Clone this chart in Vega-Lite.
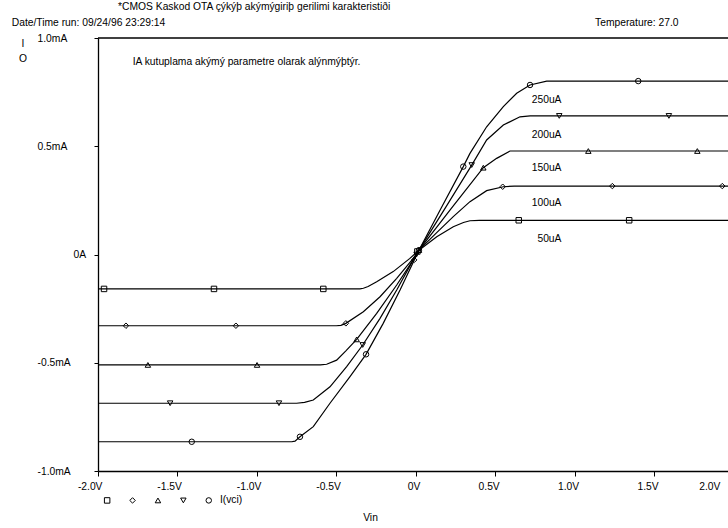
{
  "$schema": "https://vega.github.io/schema/vega-lite/v6.json",
  "width": 630,
  "height": 433,
  "autosize": {"type": "none"},
  "padding": {"left": 98, "top": 38, "right": 0, "bottom": 57},
  "background": "white",
  "config": {
    "view": {"stroke": null},
    "font": "Liberation Sans",
    "axis": {"labelFont": "Liberation Sans", "titleFont": "Liberation Sans", "labelFontSize": 10.3, "titleFontSize": 10.3, "titleFontWeight": "normal", "labelColor": "black", "titleColor": "black", "tickColor": "black", "domainColor": "black", "domainWidth": 1.3, "tickWidth": 1, "grid": false, "labelBound": false, "labelOverlap": false, "labelFlush": false},
    "legend": {"labelFont": "Liberation Sans", "labelFontSize": 10.3, "labelColor": "black"},
    "text": {"font": "Liberation Sans", "fontSize": 10.3, "color": "black"}
  },
  "datasets": {
    "curves": [
      {"series": "50uA", "vin": -2.0, "i": -0.159},
      {"series": "50uA", "vin": -0.351, "i": -0.159},
      {"series": "50uA", "vin": -0.33, "i": -0.156},
      {"series": "50uA", "vin": -0.30, "i": -0.148},
      {"series": "50uA", "vin": -0.246, "i": -0.126},
      {"series": "50uA", "vin": -0.142, "i": -0.079},
      {"series": "50uA", "vin": -0.037, "i": -0.018},
      {"series": "50uA", "vin": 0.02, "i": 0.02},
      {"series": "50uA", "vin": 0.132, "i": 0.082},
      {"series": "50uA", "vin": 0.236, "i": 0.128},
      {"series": "50uA", "vin": 0.30, "i": 0.148},
      {"series": "50uA", "vin": 0.341, "i": 0.156},
      {"series": "50uA", "vin": 0.40, "i": 0.158},
      {"series": "50uA", "vin": 1.965, "i": 0.158},

      {"series": "100uA", "vin": -2.0, "i": -0.329},
      {"series": "100uA", "vin": -0.50, "i": -0.329},
      {"series": "100uA", "vin": -0.471, "i": -0.327},
      {"series": "100uA", "vin": -0.44, "i": -0.318},
      {"series": "100uA", "vin": -0.33, "i": -0.264},
      {"series": "100uA", "vin": -0.225, "i": -0.195},
      {"series": "100uA", "vin": -0.12, "i": -0.110},
      {"series": "100uA", "vin": -0.016, "i": -0.018},
      {"series": "100uA", "vin": 0.02, "i": 0.02},
      {"series": "100uA", "vin": 0.13, "i": 0.10},
      {"series": "100uA", "vin": 0.236, "i": 0.175},
      {"series": "100uA", "vin": 0.341, "i": 0.244},
      {"series": "100uA", "vin": 0.446, "i": 0.295},
      {"series": "100uA", "vin": 0.551, "i": 0.313},
      {"series": "100uA", "vin": 0.62, "i": 0.316},
      {"series": "100uA", "vin": 1.965, "i": 0.316},

      {"series": "150uA", "vin": -2.0, "i": -0.510},
      {"series": "150uA", "vin": -0.60, "i": -0.510},
      {"series": "150uA", "vin": -0.561, "i": -0.507},
      {"series": "150uA", "vin": -0.498, "i": -0.488},
      {"series": "150uA", "vin": -0.44, "i": -0.445},
      {"series": "150uA", "vin": -0.372, "i": -0.392},
      {"series": "150uA", "vin": -0.246, "i": -0.272},
      {"series": "150uA", "vin": -0.12, "i": -0.141},
      {"series": "150uA", "vin": -0.016, "i": -0.025},
      {"series": "150uA", "vin": 0.02, "i": 0.02},
      {"series": "150uA", "vin": 0.22, "i": 0.21},
      {"series": "150uA", "vin": 0.425, "i": 0.401},
      {"series": "150uA", "vin": 0.509, "i": 0.444},
      {"series": "150uA", "vin": 0.593, "i": 0.478},
      {"series": "150uA", "vin": 0.64, "i": 0.478},
      {"series": "150uA", "vin": 1.965, "i": 0.478},

      {"series": "200uA", "vin": -2.0, "i": -0.687},
      {"series": "200uA", "vin": -0.75, "i": -0.687},
      {"series": "200uA", "vin": -0.70, "i": -0.683},
      {"series": "200uA", "vin": -0.645, "i": -0.672},
      {"series": "200uA", "vin": -0.54, "i": -0.611},
      {"series": "200uA", "vin": -0.435, "i": -0.518},
      {"series": "200uA", "vin": -0.334, "i": -0.418},
      {"series": "200uA", "vin": -0.225, "i": -0.295},
      {"series": "200uA", "vin": -0.12, "i": -0.164},
      {"series": "200uA", "vin": -0.016, "i": -0.025},
      {"series": "200uA", "vin": 0.02, "i": 0.02},
      {"series": "200uA", "vin": 0.19, "i": 0.22},
      {"series": "200uA", "vin": 0.352, "i": 0.413},
      {"series": "200uA", "vin": 0.446, "i": 0.529},
      {"series": "200uA", "vin": 0.551, "i": 0.598},
      {"series": "200uA", "vin": 0.656, "i": 0.636},
      {"series": "200uA", "vin": 0.72, "i": 0.640},
      {"series": "200uA", "vin": 1.965, "i": 0.640},

      {"series": "250uA", "vin": -2.0, "i": -0.865},
      {"series": "250uA", "vin": -0.78, "i": -0.865},
      {"series": "250uA", "vin": -0.76, "i": -0.862},
      {"series": "250uA", "vin": -0.729, "i": -0.842},
      {"series": "250uA", "vin": -0.645, "i": -0.795},
      {"series": "250uA", "vin": -0.54, "i": -0.687},
      {"series": "250uA", "vin": -0.414, "i": -0.564},
      {"series": "250uA", "vin": -0.313, "i": -0.461},
      {"series": "250uA", "vin": -0.205, "i": -0.318},
      {"series": "250uA", "vin": -0.099, "i": -0.164},
      {"series": "250uA", "vin": 0.02, "i": 0.02},
      {"series": "250uA", "vin": 0.16, "i": 0.215},
      {"series": "250uA", "vin": 0.299, "i": 0.406},
      {"series": "250uA", "vin": 0.341, "i": 0.467},
      {"series": "250uA", "vin": 0.446, "i": 0.590},
      {"series": "250uA", "vin": 0.551, "i": 0.683},
      {"series": "250uA", "vin": 0.635, "i": 0.745},
      {"series": "250uA", "vin": 0.719, "i": 0.783},
      {"series": "250uA", "vin": 0.824, "i": 0.801},
      {"series": "250uA", "vin": 1.965, "i": 0.801}
    ],
    "markers": [
      {"series": "50uA", "vin": -1.962, "i": -0.159},
      {"series": "50uA", "vin": -1.27, "i": -0.159},
      {"series": "50uA", "vin": -0.582, "i": -0.159},
      {"series": "50uA", "vin": 0.01, "i": 0.014},
      {"series": "50uA", "vin": 0.648, "i": 0.158},
      {"series": "50uA", "vin": 1.343, "i": 0.158},

      {"series": "100uA", "vin": -1.824, "i": -0.329},
      {"series": "100uA", "vin": -1.132, "i": -0.329},
      {"series": "100uA", "vin": -0.44, "i": -0.318},
      {"series": "100uA", "vin": -0.01, "i": -0.025},
      {"series": "100uA", "vin": 0.547, "i": 0.313},
      {"series": "100uA", "vin": 1.237, "i": 0.316},
      {"series": "100uA", "vin": 1.929, "i": 0.316},

      {"series": "150uA", "vin": -1.686, "i": -0.510},
      {"series": "150uA", "vin": -0.999, "i": -0.510},
      {"series": "150uA", "vin": -0.372, "i": -0.392},
      {"series": "150uA", "vin": 0.02, "i": 0.02},
      {"series": "150uA", "vin": 0.425, "i": 0.401},
      {"series": "150uA", "vin": 1.086, "i": 0.478},
      {"series": "150uA", "vin": 1.772, "i": 0.478},

      {"series": "200uA", "vin": -1.546, "i": -0.687},
      {"series": "200uA", "vin": -0.861, "i": -0.687},
      {"series": "200uA", "vin": -0.334, "i": -0.418},
      {"series": "200uA", "vin": 0.005, "i": 0.0},
      {"series": "200uA", "vin": 0.352, "i": 0.413},
      {"series": "200uA", "vin": 0.903, "i": 0.640},
      {"series": "200uA", "vin": 1.593, "i": 0.640},

      {"series": "250uA", "vin": -1.41, "i": -0.865},
      {"series": "250uA", "vin": -0.729, "i": -0.842},
      {"series": "250uA", "vin": -0.313, "i": -0.461},
      {"series": "250uA", "vin": 0.02, "i": 0.02},
      {"series": "250uA", "vin": 0.299, "i": 0.406},
      {"series": "250uA", "vin": 0.719, "i": 0.783},
      {"series": "250uA", "vin": 1.40, "i": 0.801}
    ],
    "labels": [
      {"label": "250uA", "vin": 0.917, "i": 0.714},
      {"label": "200uA", "vin": 0.917, "i": 0.552},
      {"label": "150uA", "vin": 0.917, "i": 0.401},
      {"label": "100uA", "vin": 0.917, "i": 0.236},
      {"label": "50uA", "vin": 0.917, "i": 0.072}
    ]
  },
  "layer": [
    {
      "data": {"values": [{}]},
      "mark": {"type": "rule", "color": "black", "strokeWidth": 1.3},
      "encoding": {
        "y": {"datum": 1, "type": "quantitative", "scale": {"domain": [-1, 1], "nice": false, "zero": false}}
      }
    },
    {
      "data": {"name": "curves"},
      "mark": {"type": "line", "color": "black", "strokeWidth": 1.2, "clip": true},
      "encoding": {
        "x": {
          "field": "vin", "type": "quantitative",
          "scale": {"domain": [-2, 1.965], "nice": false, "zero": false},
          "axis": {
            "values": [-2, -1.5, -1, -0.5, 0, 0.5, 1, 1.5, 1.889],
            "labelExpr": "datum.value > 1.8 ? '2.0V' : (datum.value == 0 ? '0V' : (datum.value < 0 ? '-' : '') + format(abs(datum.value), '.1f') + 'V')",
            "labelAlign": "right",
            "labelOffset": 4,
            "labelPadding": 5,
            "tickSize": 5,
            "tickOpacity": {"condition": {"test": "datum.value > 1.8", "value": 0}, "value": 1},
            "title": "Vin",
            "titleX": 272,
            "titleY": 46.5,
            "titleAlign": "center",
            "titleBaseline": "middle",
            "titleAnchor": null
          }
        },
        "y": {
          "field": "i", "type": "quantitative",
          "scale": {"domain": [-1, 1], "nice": false, "zero": false},
          "axis": {
            "values": [-1, -0.5, 0, 0.5, 1],
            "labelExpr": "datum.value == 0 ? '0A' : (datum.value < 0 ? '-' : '') + format(abs(datum.value), '.1f') + 'mA'",
            "labelAlign": "left",
            "labelBaseline": "middle",
            "labelPadding": {"condition": {"test": "datum.value == 0", "value": 21}, "value": 57},
            "tickSize": 4,
            "title": ["I", "O"],
            "titleAngle": 0,
            "titleAlign": "center",
            "titleBaseline": "top",
            "titleLineHeight": 15,
            "titleX": -75.5,
            "titleY": 0
          }
        },
        "detail": {"field": "series"}
      }
    },
    {
      "data": {"name": "markers"},
      "mark": {"type": "point", "filled": false, "color": "black", "strokeWidth": 1, "size": 30, "opacity": 1, "clip": true},
      "encoding": {
        "x": {"field": "vin", "type": "quantitative"},
        "y": {"field": "i", "type": "quantitative"},
        "shape": {
          "field": "series", "type": "nominal",
          "scale": {"domain": ["50uA", "100uA", "150uA", "200uA", "250uA"], "range": ["square", "diamond", "triangle-up", "triangle-down", "circle"]},
          "legend": {
            "orient": "none",
            "legendX": 4,
            "legendY": 457,
            "direction": "horizontal",
            "title": null,
            "padding": 0,
            "columnPadding": 8.4,
            "labelOffset": 6,
            "symbolSize": 30,
            "symbolStrokeWidth": 1,
            "symbolStrokeColor": "black",
            "symbolFillColor": "transparent",
            "symbolOpacity": 1,
            "labelExpr": "datum.label == '250uA' ? 'I(vci)' : ''"
          }
        }
      }
    },
    {
      "data": {"name": "labels"},
      "mark": {"type": "text", "align": "right", "baseline": "middle"},
      "encoding": {
        "x": {"field": "vin", "type": "quantitative"},
        "y": {"field": "i", "type": "quantitative"},
        "text": {"field": "label"}
      }
    },
    {
      "data": {"values": [{}]},
      "mark": {"type": "text", "align": "left", "baseline": "middle", "text": "*CMOS Kaskod OTA çýkýþ akýmýgiriþ gerilimi karakteristiði"},
      "encoding": {"x": {"datum": -1.874, "type": "quantitative"}, "y": {"datum": 1.143, "type": "quantitative"}}
    },
    {
      "data": {"values": [{}]},
      "mark": {"type": "text", "align": "left", "baseline": "middle", "text": "Date/Time run: 09/24/96  23:29:14"},
      "encoding": {"x": {"datum": -2.543, "type": "quantitative"}, "y": {"datum": 1.067, "type": "quantitative"}}
    },
    {
      "data": {"values": [{}]},
      "mark": {"type": "text", "align": "left", "baseline": "middle", "text": "Temperature: 27.0"},
      "encoding": {"x": {"datum": 1.128, "type": "quantitative"}, "y": {"datum": 1.067, "type": "quantitative"}}
    },
    {
      "data": {"values": [{}]},
      "mark": {"type": "text", "align": "left", "baseline": "middle", "text": "IA kutuplama akýmý parametre olarak alýnmýþtýr."},
      "encoding": {"x": {"datum": -1.782, "type": "quantitative"}, "y": {"datum": 0.889, "type": "quantitative"}}
    }
  ]
}
